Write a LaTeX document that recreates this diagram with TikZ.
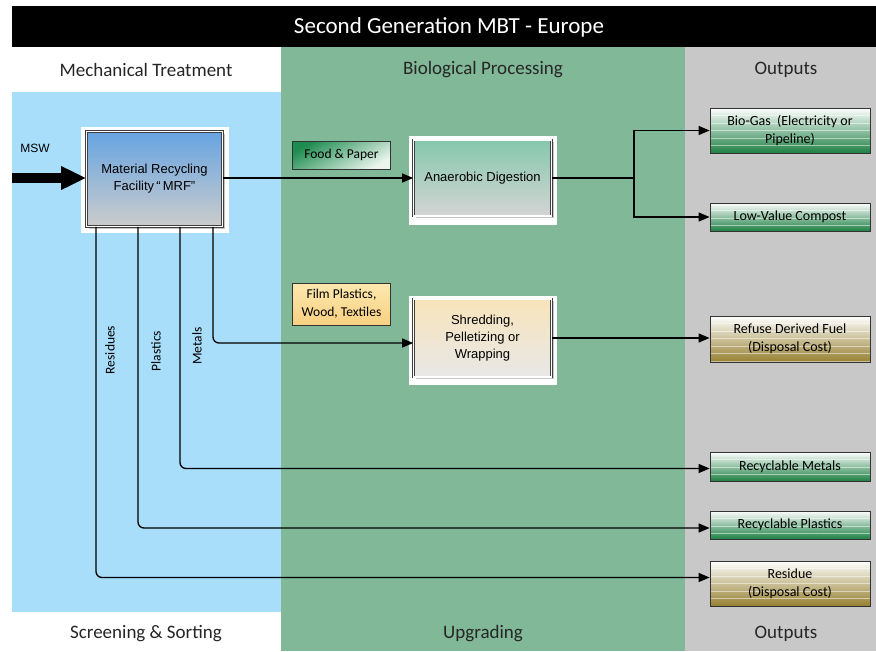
\documentclass[tikz,border=0pt]{standalone}
\usepackage{fontspec}
\setmainfont{Carlito}
\newfontfamily\arialf{Liberation Sans}
\usetikzlibrary{arrows.meta,calc,shadows}
\definecolor{colgreen}{RGB}{128,184,152}
\definecolor{colgray}{RGB}{200,200,200}
\definecolor{colblue}{RGB}{168,222,250}
\definecolor{outgreen}{RGB}{30,128,68}
\definecolor{outolive}{RGB}{150,128,48}
\tikzset{
  hdr/.style={font=\fontsize{19}{22}\selectfont, text=black!85},
  proc/.style={draw=black!75, double=white, double distance=1.3pt, line width=0.7pt,
    align=center, inner sep=0pt, font=\arialf\fontsize{13}{17}\selectfont,
    drop shadow={shadow xshift=2pt, shadow yshift=-2pt, opacity=0.45}},
  tag/.style={draw=black!80, line width=0.6pt, align=center, inner sep=0pt,
    font=\fontsize{13.5}{18}\selectfont},
  outbox/.style={draw=black!80, line width=0.8pt, align=center, inner sep=0pt,
    minimum width=160pt, font=\fontsize{14}{18}\selectfont,
    path picture={\foreach \k in {1,...,6}{\draw[white, opacity=0.5, line width=0.7pt]
      ([yshift=-\k*7.5pt]path picture bounding box.north west) --
      ([yshift=-\k*7.5pt]path picture bounding box.north east);}}},
  outg/.style={outbox, top color=white, bottom color=outgreen},
  outo/.style={outbox, top color=white, bottom color=outolive},
  conn/.style={draw=black, line width=1.3pt, rounded corners=6pt},
  arr/.style={conn, -{Triangle[length=11pt,width=9pt]}},
  vlab/.style={rotate=90, font=\fontsize{13.5}{15}\selectfont}
}
\begin{document}
\begin{tikzpicture}[x=1pt,y=-1pt]
\useasboundingbox (0,0) rectangle (876,651);
\fill[white] (0,0) rectangle (876,651);
% columns
\fill[black] (12,6) rectangle (876,47);
\fill[colgreen] (281,47) rectangle (685,651);
\fill[colgray] (685,47) rectangle (876,651);
\fill[colblue] (12,92) rectangle (281,612);
\node[text=white, font=\fontsize{23}{26}\selectfont] (title) at (449,27) {Second Generation MBT - Europe};
\node[hdr] (h1) at (146,70) {Mechanical Treatment};
\node[hdr] (h2) at (483,70) {Biological Processing};
\node[hdr] (h3) at (786,70) {Outputs};
\node[hdr] (f1) at (146,634) {Screening \& Sorting};
\node[hdr] (f2) at (483,634) {Upgrading};
\node[hdr] (f3) at (786,634) {Outputs};
% white frames
\fill[white] (81,127) rectangle (229,233);
\fill[white] (409,136) rectangle (557,225);
\fill[white] (409,296) rectangle (557,385);
% process boxes
\node[proc, minimum width=136pt, minimum height=95pt, top color={rgb,255:red,102;green,164;blue,226}, bottom color={rgb,255:red,204;green,204;blue,204}] (mrf) at (154.5,179) {Material Recycling\\Facility\,\textquotedblleft\,MRF\textquotedblright};
\node[proc, minimum width=138pt, minimum height=76pt, top color={rgb,255:red,134;green,200;blue,174}, bottom color={rgb,255:red,212;green,212;blue,212}] (ad) at (482.5,178) {Anaerobic Digestion};
\node[proc, minimum width=138pt, minimum height=78pt, top color={rgb,255:red,248;green,228;blue,186}, bottom color={rgb,255:red,232;green,232;blue,232}] (shred) at (482.5,338) {Shredding,\\Pelletizing or\\Wrapping};
% tags
\node[tag, minimum width=98pt, minimum height=28pt, top color={rgb,255:red,30;green,140;blue,80}, bottom color={rgb,255:red,235;green,245;blue,238}, shading angle=30] (food) at (341.5,155) {Food \& Paper};
\node[tag, minimum width=98pt, minimum height=42pt, top color={rgb,255:red,253;green,232;blue,175}, bottom color={rgb,255:red,248;green,208;blue,128}] (film) at (341.5,304) {Film Plastics,\\Wood, Textiles};
% outputs
\node[outg, minimum height=45pt] (biogas) at (790,130.5) {Bio-Gas~~(Electricity or\\Pipeline)};
\node[outg, minimum height=28pt] (compost) at (790,217) {Low-Value Compost};
\node[outo, minimum height=46pt] (rdf) at (790,339) {Refuse Derived Fuel\\(Disposal Cost)};
\node[outg, minimum height=29pt] (metals) at (790,466.5) {Recyclable Metals};
\node[outg, minimum height=28pt] (plastics) at (790,525) {Recyclable Plastics};
\node[outo, minimum height=45pt] (residue) at (790,583.5) {Residue\\(Disposal Cost)};
% MSW input
\node[font=\arialf\fontsize{12}{14}\selectfont] (msw) at (35,148) {MSW};
\coordinate (mswstart) at (12,178);
\draw[line width=10pt, -{Triangle[length=25pt,width=22pt]}] (mswstart) -- (mrf.west |- mswstart);
% connectors
\draw[arr] (mrf.east |- ad.west) -- (ad.west);
\coordinate (split) at (634,178);
\draw[conn, rounded corners=0pt] (ad.east) -- (split);
\draw[arr, rounded corners=0pt] (split) |- (biogas.west);
\draw[arr, rounded corners=0pt] (split) |- (compost.west);
\draw[arr] (shred.east) -- (shred.east -| rdf.west);
\coordinate (x1) at (96,0);
\coordinate (x2) at (138,0);
\coordinate (x3) at (180,0);
\coordinate (x4) at (213,0);
\draw[arr] (mrf.south -| x4) |- ($(shred.west)+(0,5)$);
\draw[arr] (mrf.south -| x3) |- ($(metals.west)+(0,2)$);
\draw[arr] (mrf.south -| x2) |- ($(plastics.west)+(0,3)$);
\draw[arr] (mrf.south -| x1) |- ($(residue.west)+(0,-6)$);
\node[vlab] (lres) at (110,350) {Residues};
\node[vlab] (lpla) at (156,351) {Plastics};
\node[vlab] (lmet) at (197,346) {Metals};
\end{tikzpicture}
\end{document}
